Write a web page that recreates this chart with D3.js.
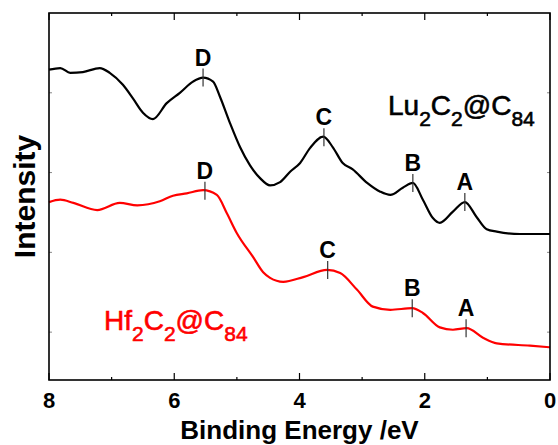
<!DOCTYPE html>
<html>
<head>
<meta charset="utf-8">
<script src="https://cdn.jsdelivr.net/npm/d3@7"></script>
<style>
  body { margin: 0; background: #fff; }
  svg { display: block; font-family: "Liberation Sans", Arial, sans-serif; }
</style>
</head>
<body>
<div id="canvas"></div>
<script>
// binding energy (eV) / intensity (arb. units)
var luEnergy = [8.00, 7.82, 7.66, 7.46, 7.19, 7.03, 6.82, 6.66, 6.50, 6.34, 6.12, 5.91, 5.70, 5.54, 5.38,
                5.27, 5.11, 4.95, 4.79, 4.63, 4.47, 4.31, 4.15, 3.99, 3.83, 3.62, 3.47, 3.31, 3.15, 2.92,
                2.71, 2.55, 2.35, 2.19, 2.03, 1.87, 1.76, 1.55, 1.36, 1.17, 1.01, 0.85, 0.48, 0.00];
var luIntensity = [4.29, 4.31, 4.25, 4.26, 4.31, 4.25, 4.10, 3.93, 3.75, 3.67, 3.87, 4.00, 4.14, 4.19, 4.14,
                   3.95, 3.62, 3.32, 3.09, 2.93, 2.84, 2.88, 3.01, 3.12, 3.31, 3.45, 3.32, 3.12, 3.04, 2.87,
                   2.76, 2.72, 2.81, 2.87, 2.66, 2.43, 2.37, 2.51, 2.63, 2.44, 2.29, 2.26, 2.23, 2.23];

var hfEnergy = [8.00, 7.82, 7.61, 7.23, 6.87, 6.59, 6.23, 6.02, 5.80, 5.54, 5.32, 5.16, 5.00, 4.74, 4.58,
                4.47, 4.26, 3.94, 3.56, 3.35, 3.08, 2.83, 2.55, 2.20, 2.03, 1.76, 1.55, 1.33, 1.07, 0.85,
                0.32, 0.00];
var hfIntensity = [2.63, 2.66, 2.62, 2.53, 2.62, 2.59, 2.64, 2.71, 2.74, 2.78, 2.72, 2.49, 2.24, 1.94, 1.75,
                   1.68, 1.63, 1.69, 1.78, 1.74, 1.53, 1.32, 1.28, 1.30, 1.24, 1.06, 1.03, 1.05, 0.93, 0.86,
                   0.83, 0.81];

var peakNames = ["D", "C", "B", "A"];
var luPeaks = [5.54, 3.61, 2.19, 1.36];
var hfPeaks = [5.51, 3.55, 2.20, 1.34];

var xTicks = [8, 7, 6, 5, 4, 3, 2, 1, 0];
var yTicks = [1, 2, 3, 4];

var width = 558, height = 445;
var mleft = 49, mtop = 13, mright = 8, mbottom = 65;
var pw = width - mleft - mright, ph = height - mtop - mbottom;

var svg = d3.select("#canvas").append("svg")
    .attr("width", width)
    .attr("height", height);

var x = d3.scaleLinear().domain([8, 0]).range([mleft, mleft + pw]);
var y = d3.scaleLinear().domain([0.4, 5]).range([mtop + ph, mtop]);

function series(en, it) {
    return en.map(function (e, i) { return { e: e, v: it[i] }; });
}
var lu = series(luEnergy, luIntensity);
var hf = series(hfEnergy, hfIntensity);

// value of a spectrum at a given energy (for placing peak markers)
function valueAt(data, e) {
    for (var i = 0; i < data.length - 1; i++) {
        var a = data[i], b = data[i + 1];
        if (e <= a.e && e >= b.e) {
            var t = (a.e - e) / (a.e - b.e);
            return a.v + t * (b.v - a.v);
        }
    }
    return data[data.length - 1].v;
}

var line = d3.line()
    .x(function (d) { return x(d.e); })
    .y(function (d) { return y(d.v); })
    .curve(d3.curveMonotoneX);

// ticks, inward on all four sides
var g = svg.append("g");
xTicks.forEach(function (t) {
    var len = t % 2 == 0 ? 7 : 3;
    g.append("line").attr("x1", x(t)).attr("x2", x(t))
        .attr("y1", mtop + ph).attr("y2", mtop + ph - len)
        .attr("stroke", "#000").attr("stroke-width", 1.2);
    g.append("line").attr("x1", x(t)).attr("x2", x(t))
        .attr("y1", mtop).attr("y2", mtop + len)
        .attr("stroke", "#000").attr("stroke-width", 1.2);
});
yTicks.forEach(function (t) {
    g.append("line").attr("x1", mleft).attr("x2", mleft + 3)
        .attr("y1", y(t)).attr("y2", y(t))
        .attr("stroke", "#888").attr("stroke-width", 1);
    g.append("line").attr("x1", mleft + pw).attr("x2", mleft + pw - 3)
        .attr("y1", y(t)).attr("y2", y(t))
        .attr("stroke", "#888").attr("stroke-width", 1);
});

svg.append("path").datum(lu)
    .attr("d", line)
    .attr("fill", "none").attr("stroke", "#000").attr("stroke-width", 2.2);
svg.append("path").datum(hf)
    .attr("d", line)
    .attr("fill", "none").attr("stroke", "#ff0000").attr("stroke-width", 2.2);

function peaks(data, energies) {
    energies.forEach(function (e, i) {
        var cy = y(valueAt(data, e));
        svg.append("line")
            .attr("x1", x(e)).attr("x2", x(e))
            .attr("y1", cy - 9).attr("y2", cy + 9)
            .attr("stroke", "#333").attr("stroke-width", 1.2);
        svg.append("text")
            .attr("x", x(e)).attr("y", cy - 12)
            .attr("text-anchor", "middle")
            .attr("font-size", 23).attr("font-weight", "bold")
            .text(peakNames[i]);
    });
}
peaks(lu, luPeaks);
peaks(hf, hfPeaks);

// frame
svg.append("rect")
    .attr("x", mleft).attr("y", mtop)
    .attr("width", pw).attr("height", ph)
    .attr("fill", "none").attr("stroke", "#000").attr("stroke-width", 1.6);

// x tick labels
svg.selectAll(".xlab")
    .data(xTicks.filter(function (t) { return t % 2 == 0; }))
    .enter().append("text")
    .attr("x", function (d) { return x(d); })
    .attr("y", 408)
    .attr("text-anchor", "middle")
    .attr("font-size", 22).attr("font-weight", "bold")
    .text(function (d) { return d; });

svg.append("text")
    .attr("x", mleft + pw / 2).attr("y", 439)
    .attr("text-anchor", "middle")
    .attr("font-size", 26).attr("font-weight", "bold")
    .text("Binding Energy /eV");

svg.append("text")
    .attr("transform", "translate(35," + (mtop + ph / 2) + ") rotate(-90)")
    .attr("text-anchor", "middle")
    .attr("font-size", 30).attr("font-weight", "bold")
    .text("Intensity");

// compound labels with subscripts
function formula(px, py, parts, color) {
    var t = svg.append("text")
        .attr("x", px).attr("y", py)
        .attr("fill", color)
        .attr("font-size", 28)
        .attr("stroke", color).attr("stroke-width", 0.6);
    var down = false;
    parts.forEach(function (p) {
        var sub = /^[0-9]+$/.test(p);
        var s = t.append("tspan").text(p);
        if (sub && !down) { s.attr("dy", 11).attr("font-size", 21); down = true; }
        else if (sub) { s.attr("font-size", 21); }
        else if (down) { s.attr("dy", -11); down = false; }
    });
}
formula(388, 115, ["Lu", "2", "C", "2", "@C", "84"], "#000");
formula(104, 330, ["Hf", "2", "C", "2", "@C", "84"], "#ff0000");
</script>
</body>
</html>
